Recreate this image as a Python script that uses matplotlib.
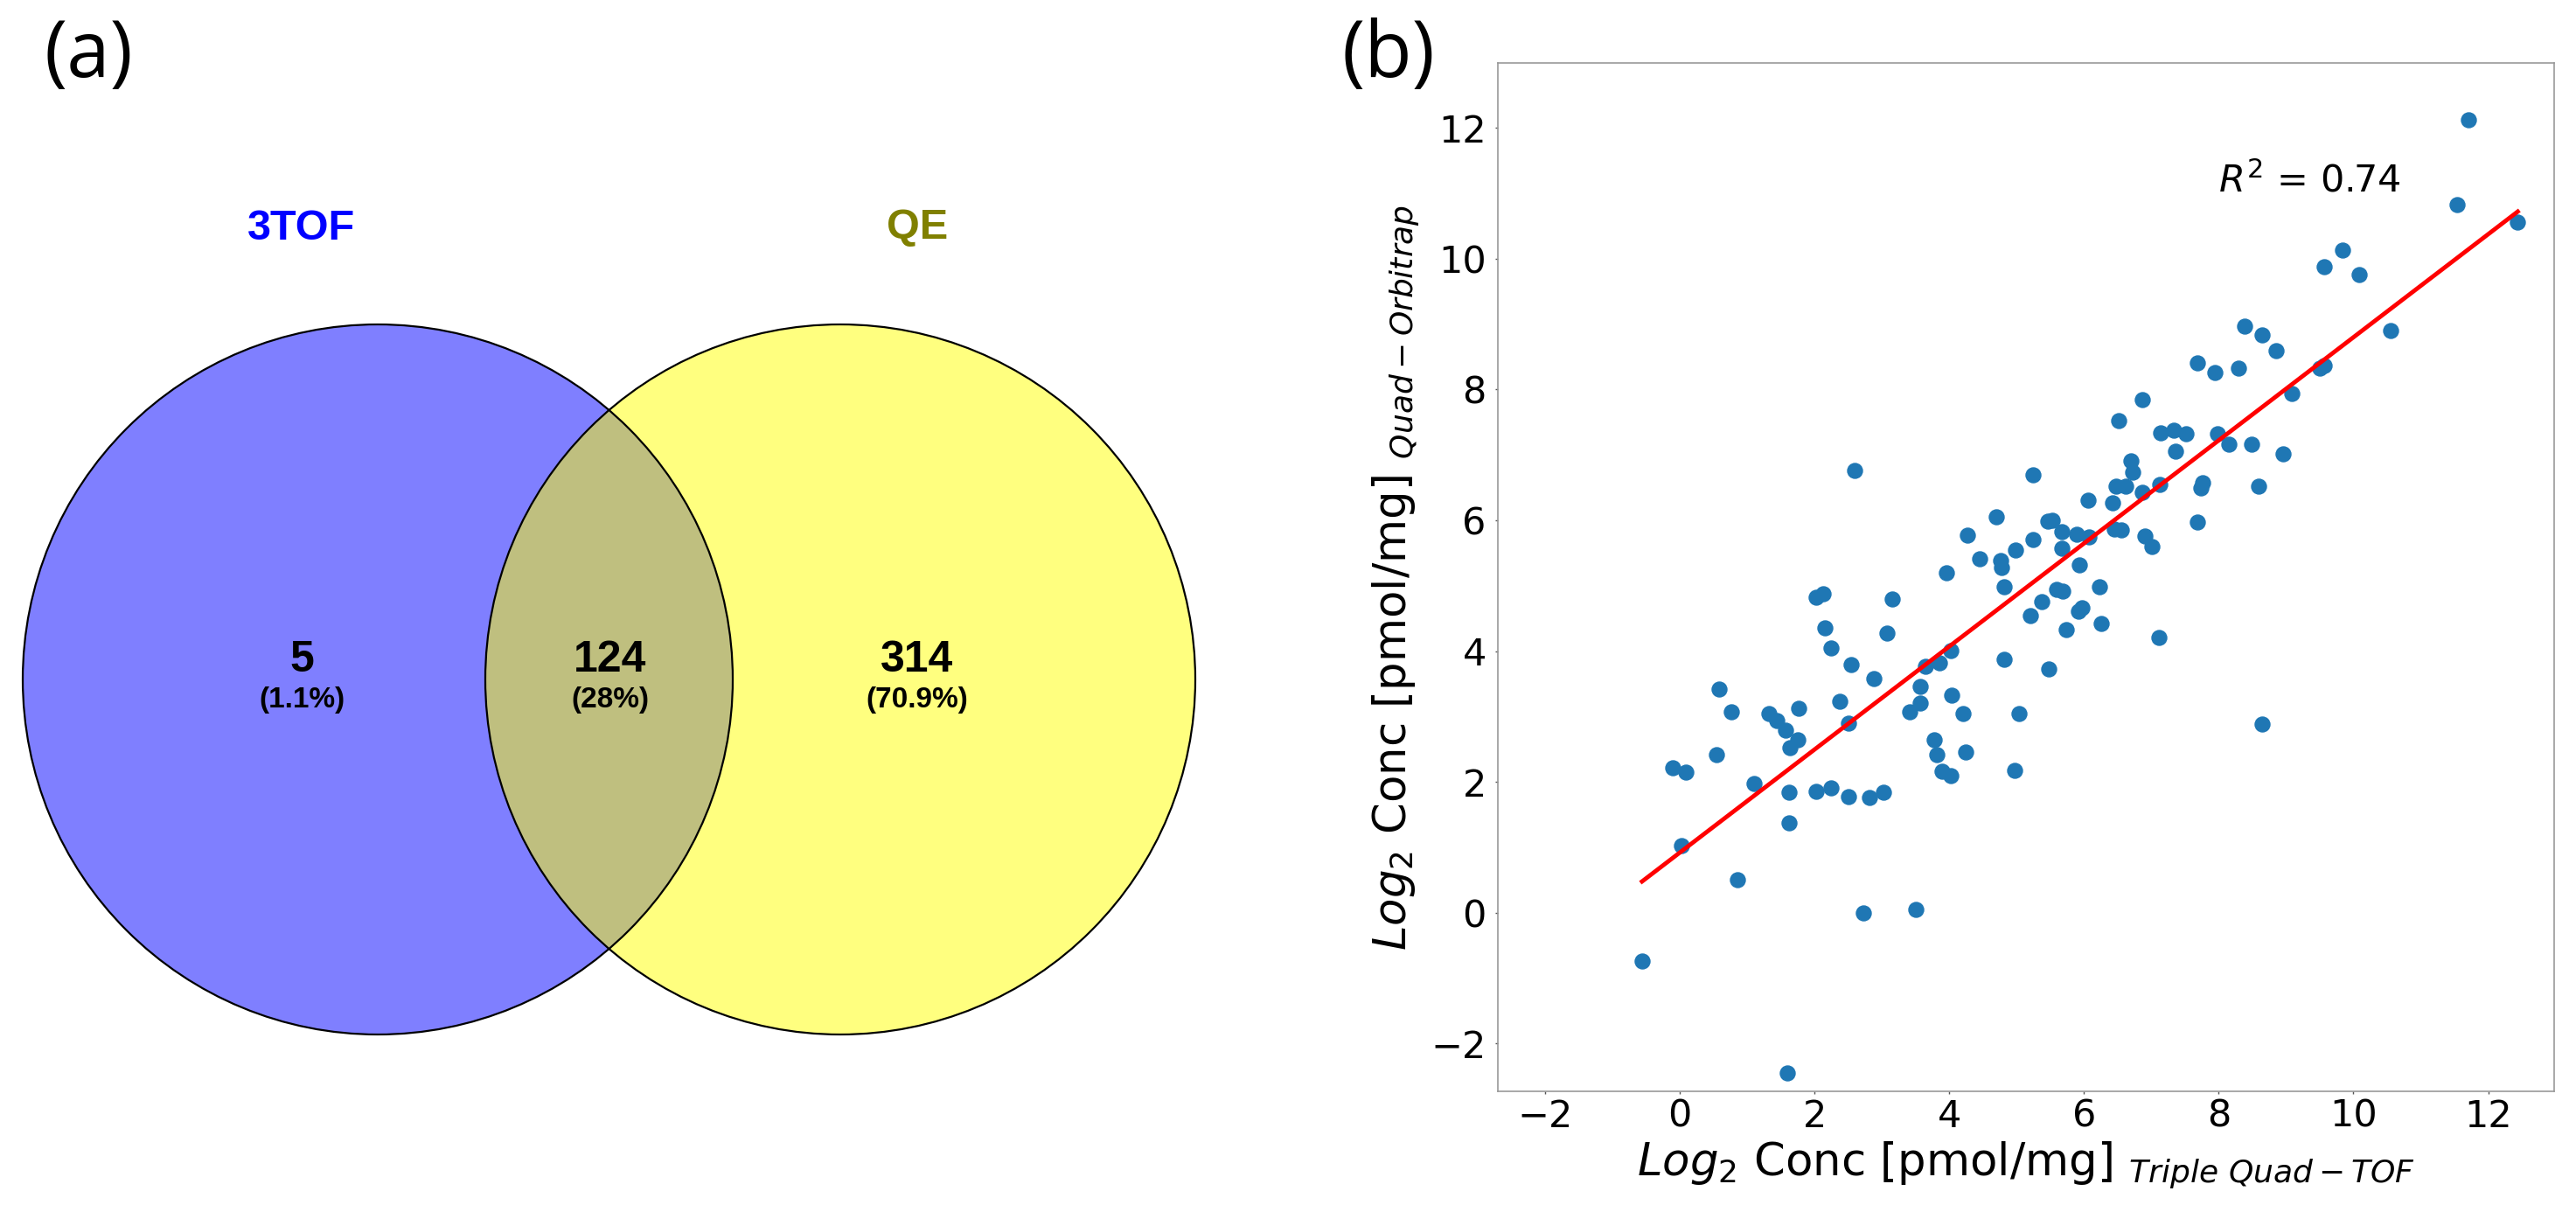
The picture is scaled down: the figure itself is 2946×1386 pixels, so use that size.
import numpy as np
import matplotlib
matplotlib.use("Agg")
import matplotlib.pyplot as plt
from matplotlib.patches import Circle

# Venn data (a)
set_names = ["3TOF", "QE"]
set_colors = ["#0000ff", "#808000"]
region_counts = [5, 124, 314]          # 3TOF only, both, QE only
region_pcts = ["1.1%", "28%", "70.9%"]

# Scatter data (b): log2 conc, Triple Quad-TOF vs Quad-Orbitrap
x_tof = [11.71, 11.54, 12.44, 9.84, 9.56, 10.08, 10.55, 8.39, 8.64, 8.85,
         7.69, 7.94, 8.29, 9.50, 9.57, 9.08, 6.87, 6.51, 7.14, 7.34,
         7.52, 7.98, 8.15, 8.49, 7.36, 8.95, 6.70, 6.73, 2.59, 5.25,
         8.59, 7.76, 7.73, 7.13, 6.48, 6.62, 6.87, 6.06, 6.42, 4.70,
         5.46, 5.53, 7.69, 6.45, 6.55, 5.67, 5.89, 6.07, 4.27, 6.91,
         7.01, 5.25, 4.99, 5.67, 4.45, 4.77, 4.78, 5.93, 3.96, 4.81,
         5.59, 5.68, 6.23, 2.03, 2.13, 3.15, 5.38, 5.97, 5.92, 5.21,
         6.25, 2.15, 5.74, 3.07, 7.11, 2.24, 4.02, 3.65, 3.85, 2.55,
         4.82, 5.48, 2.88, 0.58, 3.57, 4.04, 2.38, 3.57, 0.77, 1.77,
         1.33, 1.44, 1.57, 3.42, 4.20, 5.03, 8.64, 2.51, 1.75, 1.64,
         3.78, 0.55, 3.81, 4.24, -0.11, 0.09, 3.89, 4.02, 4.97, 1.10,
         2.02, 2.24, 1.62, 2.51, 2.82, 3.03, 1.62, 0.03, 0.86, 2.73,
         3.51, -0.56, 1.59]
y_qe = [12.12, 10.82, 10.56, 10.13, 9.88, 9.75, 8.90, 8.97, 8.83, 8.59,
        8.40, 8.26, 8.33, 8.33, 8.37, 7.94, 7.84, 7.52, 7.34, 7.38,
        7.32, 7.32, 7.16, 7.16, 7.06, 7.01, 6.91, 6.74, 6.76, 6.69,
        6.52, 6.57, 6.50, 6.55, 6.52, 6.52, 6.42, 6.31, 6.26, 6.05,
        5.99, 6.00, 5.97, 5.87, 5.85, 5.82, 5.78, 5.74, 5.77, 5.76,
        5.60, 5.70, 5.54, 5.57, 5.41, 5.38, 5.28, 5.32, 5.20, 4.98,
        4.94, 4.92, 4.98, 4.82, 4.87, 4.79, 4.75, 4.66, 4.61, 4.54,
        4.42, 4.36, 4.33, 4.27, 4.21, 4.05, 4.01, 3.76, 3.82, 3.79,
        3.87, 3.72, 3.58, 3.42, 3.46, 3.32, 3.23, 3.21, 3.07, 3.12,
        3.04, 2.94, 2.79, 3.07, 3.05, 3.05, 2.88, 2.90, 2.65, 2.53,
        2.65, 2.42, 2.41, 2.46, 2.22, 2.15, 2.16, 2.09, 2.17, 1.97,
        1.86, 1.91, 1.84, 1.78, 1.76, 1.84, 1.37, 1.03, 0.50, 0.00,
        0.05, -0.74, -2.45]
r2_text = "0.74"

W, H = 2946, 1386
fig = plt.figure(figsize=(W / 100, H / 100), dpi=100)

# ---- (a) Venn diagram, drawn in pixel units ----
axv = fig.add_axes([0, 0, 1500 / W, 1])
axv.set_xlim(0, 1500)
axv.set_ylim(H, 0)
axv.axis("off")

r = 406
centers = [(432, 777), (961, 777)]
fills = ["#0000ff", "#ffff00"]
for c, f in zip(centers, fills):
    axv.add_patch(Circle(c, r, facecolor=f, alpha=0.5, edgecolor="none"))
for c in centers:
    axv.add_patch(Circle(c, r, facecolor="none", edgecolor="black", lw=1.6))

bold = dict(family="Liberation Sans", weight="bold", ha="center", va="center")
axv.text(345, 261, set_names[0], color=set_colors[0], fontsize=35, **bold)
axv.text(1049, 261, set_names[1], color=set_colors[1], fontsize=35, **bold)

region_x = [345, 698, 1049]
for rx, n, p in zip(region_x, region_counts, region_pcts):
    axv.text(rx, 755, str(n), fontsize=36, color="black", **bold)
    axv.text(rx, 800, "(" + p + ")", fontsize=24, color="black", **bold)

# ---- (b) scatter with regression ----
ax = fig.add_axes([1713 / W, 1 - 1248 / H, 1208 / W, 1176 / H])
ax.scatter(x_tof, y_qe, s=150, color="#1f77b4", zorder=2)

slope, intercept = np.polyfit(x_tof, y_qe, 1)
xx = np.array([min(x_tof), max(x_tof)])
ax.plot(xx, slope * xx + intercept, color="red", lw=3.5, zorder=3)

ax.text(8.0, 11.02, r"$R^2$ = " + r2_text, fontsize=31, ha="left", va="baseline")

ax.set_xlim(-2.70, 12.98)
ax.set_ylim(-2.73, 12.99)
ax.set_xticks(np.arange(-2, 13, 2))
ax.set_yticks(np.arange(-2, 13, 2))
ax.tick_params(axis="both", labelsize=31, length=2.5, width=1, color="#555555")
ax.tick_params(axis="x", pad=3)
ax.tick_params(axis="y", pad=7)
for sp in ax.spines.values():
    sp.set_color("#999999")
    sp.set_linewidth(1.2)

ax.set_xlabel(r"$Log_2$ Conc [pmol/mg] $_{Triple\ Quad-TOF}$", fontsize=37, labelpad=4)
ax.set_ylabel(r"$Log_2$ Conc [pmol/mg] $_{Quad-Orbitrap}$", fontsize=37, labelpad=8)

fig.text(50 / W, 1 - 65 / H, "(a)", fontsize=64, family="Open Sans", ha="left", va="center")
fig.text(1535 / W, 1 - 65 / H, "(b)", fontsize=64, family="Open Sans", ha="left", va="center")

fig.savefig("out.png", dpi=100)
